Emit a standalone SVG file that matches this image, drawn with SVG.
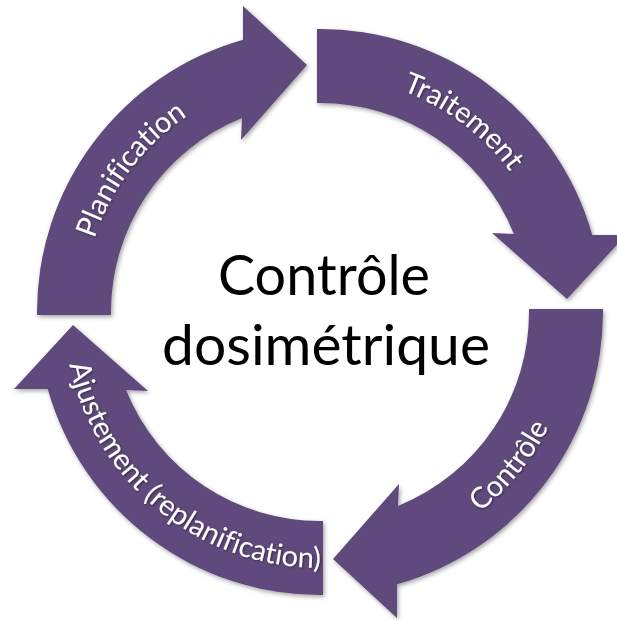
<svg xmlns="http://www.w3.org/2000/svg" xmlns:xlink="http://www.w3.org/1999/xlink" width="617" height="621" viewBox="0 0 617 621">
  <style>
    .arrow { fill: #604A7B; }
    .label { fill: #FFFFFF; font-family: Lato, "Open Sans", "Liberation Sans", sans-serif; font-size: 29px; font-variant-ligatures: none; }
    .title { fill: #000000; font-family: Lato, "Open Sans", "Liberation Sans", sans-serif; font-size: 56px; text-anchor: middle; font-variant-ligatures: none; }
  </style>
  <defs>
    <filter id="shadow" x="-10%" y="-10%" width="120%" height="120%">
      <feDropShadow dx="1.5" dy="2" stdDeviation="2" flood-color="#000" flood-opacity="0.35"/>
    </filter>
    <filter id="textShadow" x="-10%" y="-10%" width="120%" height="120%">
      <feDropShadow dx="1" dy="1" stdDeviation="1" flood-color="#000" flood-opacity="0.45"/>
    </filter>
    <!-- one quarter-circle arrow, centre of the cycle at (320,312) -->
    <path id="quarterArrow" class="arrow" d="M37,315 A283,283 0 0 1 243,39.7 L243,6 L307,65 L241,140 L242,118.1 A209,209 0 0 0 111,315 Z"/>
    <!-- baselines for the labels -->
    <path id="arcPlan" d="M101.8,404.6 A236,236 0 0 1 348.9,77.8"/>
    <path id="arcTrait" d="M227.4,94.8 A236,236 0 0 1 554.2,340.9"/>
    <path id="arcCtrl" d="M280.1,564.9 A256,256 0 0 0 559.1,220.6"/>
    <path id="arcAjust" d="M67.1,272.1 A256,256 0 0 0 411.4,551.1"/>
  </defs>

  <g id="planification">
    <g filter="url(#shadow)"><use xlink:href="#quarterArrow"/></g>
    <text class="label" filter="url(#textShadow)"><textPath xlink:href="#arcPlan" startOffset="50%" text-anchor="middle">Planification</textPath></text>
  </g>

  <g id="traitement">
    <g filter="url(#shadow)"><use xlink:href="#quarterArrow" transform="rotate(90 320 312)"/></g>
    <text class="label" filter="url(#textShadow)"><textPath xlink:href="#arcTrait" startOffset="50%" text-anchor="middle">Traitement</textPath></text>
  </g>

  <g id="controle">
    <g filter="url(#shadow)"><use xlink:href="#quarterArrow" transform="rotate(180 320 312)"/></g>
    <text class="label" filter="url(#textShadow)"><textPath xlink:href="#arcCtrl" startOffset="50%" text-anchor="middle">Contrôle</textPath></text>
  </g>

  <g id="ajustement">
    <g filter="url(#shadow)"><use xlink:href="#quarterArrow" transform="rotate(270 320 312)"/></g>
    <text class="label" filter="url(#textShadow)"><textPath xlink:href="#arcAjust" startOffset="50%" text-anchor="middle">Ajustement (replanification)</textPath></text>
  </g>

  <g id="centre">
    <text class="title" x="324" y="295" textLength="212" lengthAdjust="spacingAndGlyphs">Contrôle</text>
    <text class="title" x="326" y="365" textLength="328" lengthAdjust="spacingAndGlyphs">dosimétrique</text>
  </g>

  <g id="connectors"/>
</svg>
